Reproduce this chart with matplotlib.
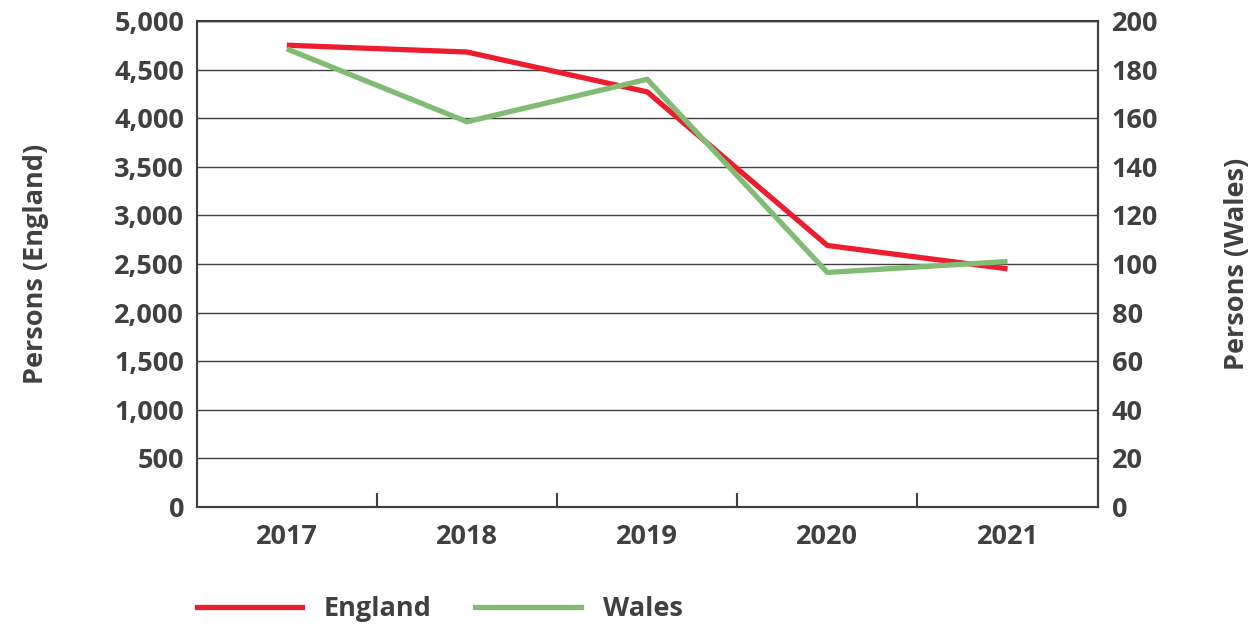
import matplotlib.pyplot as plt
from matplotlib.lines import Line2D

years = ['2017', '2018', '2019', '2020', '2021']
england = [4750, 4680, 4270, 2690, 2450]
wales = [188.5, 158.5, 176, 96.5, 101]

plt.rcParams['font.family'] = ['Open Sans', 'DejaVu Sans']
txt = '#404040'
fs = 19.5

fig = plt.figure(figsize=(12.53, 6.28), dpi=100)
ax = fig.add_axes([0.157, 0.1927, 0.719, 0.774])
ax2 = ax.twinx()

x = list(range(len(years)))
ax.plot(x, england, color='#ED1C2E', lw=3.8, solid_capstyle='butt', zorder=3)
ax2.plot(x, wales, color='#80BC73', lw=3.8, solid_capstyle='butt', zorder=3)

ax.set_xlim(-0.5, 4.5)
ax.set_ylim(0, 5000)
ax2.set_ylim(0, 200)
ax.set_yticks(range(0, 5001, 500))
ax.set_yticklabels([f'{v:,}' for v in range(0, 5001, 500)])
ax2.set_yticks(range(0, 201, 20))
ax.set_xticks(x)
ax.set_xticklabels(years)
ax.set_xticks([0.5, 1.5, 2.5, 3.5], minor=True)
ax.tick_params(axis='x', which='major', length=0, pad=12)
ax.tick_params(axis='x', which='minor', direction='in', length=10, width=1.5, color='#404040')
ax.tick_params(axis='y', length=0, pad=9)
ax2.tick_params(axis='y', length=0, pad=10)
for a in (ax, ax2):
    a.tick_params(labelsize=fs, labelcolor=txt)
    for lab in a.get_xticklabels() + a.get_yticklabels():
        lab.set_fontweight('bold')
    for s in a.spines.values():
        s.set_color('#404040')
        s.set_linewidth(1.5)
ax.spines['top'].set_linewidth(1.0)
ax.grid(axis='y', color='#404040', lw=1.0)
ax.set_axisbelow(True)

fig.text(0.029, 0.58, 'Persons (England)', rotation=90, ha='center', va='center',
         fontsize=fs, fontweight='bold', color=txt)
fig.text(0.987, 0.58, 'Persons (Wales)', rotation=90, ha='center', va='center',
         fontsize=fs, fontweight='bold', color=txt)

handles = [Line2D([], [], color='#ED1C2E', lw=3.8),
           Line2D([], [], color='#80BC73', lw=3.8)]
fig.legend(handles, ['England', 'Wales'], loc='center left', bbox_to_anchor=(0.157, 0.03),
           ncol=2, frameon=False, borderpad=0, borderaxespad=0,
           handlelength=3.9, handletextpad=0.8, columnspacing=1.6,
           prop={'size': fs, 'weight': 'bold'}, labelcolor=txt)

fig.savefig('out.png', dpi=100)
